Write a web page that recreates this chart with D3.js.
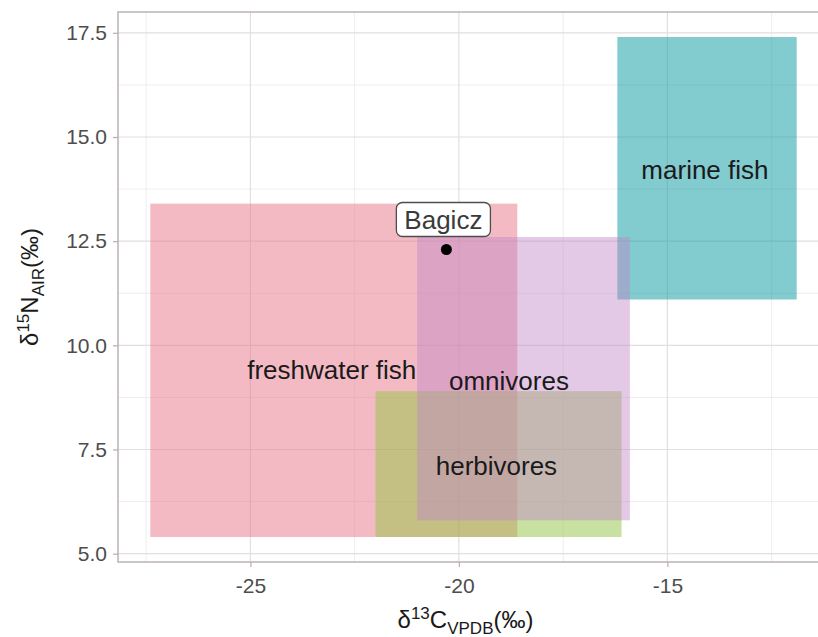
<!DOCTYPE html>
<html>
<head>
<meta charset="utf-8">
<script src="https://cdn.jsdelivr.net/npm/d3@7"></script>
<style>
  html, body { margin: 0; padding: 0; background: #ffffff; }
  svg { display: block; font-family: "Liberation Sans", Arial, Helvetica, sans-serif; }
</style>
</head>
<body>
<svg id="chart" width="818" height="637"></svg>
<script>
// Isotopic ranges of the reference food groups (δ13C, δ15N in ‰)
const groups   = ["freshwater fish", "herbivores", "marine fish", "omnivores"];
const cMin     = [-27.4, -22.0, -16.2, -21.0];
const cMax     = [-18.6, -16.1, -11.9, -15.9];
const nMin     = [5.4, 5.4, 11.1, 5.8];
const nMax     = [13.4, 8.9, 17.4, 12.6];
const fills    = ["#e9758a", "#94c442", "#05979f", "#c088c8"];
const alphas   = [0.5, 0.5, 0.5, 0.45];

// Group name annotations
const labelC   = [-23.05, -19.1, -14.1, -18.8];
const labelN   = [9.4, 7.1, 14.2, 9.15];

// Sample measurement
const sampleName = ["Bagicz"];
const sampleC    = [-20.3];
const sampleN    = [12.3];

// Axis ticks
const xTicks = [-25, -20, -15];
const yTicks = [5.0, 7.5, 10.0, 12.5, 15.0, 17.5];
const xMinor = [-27.5, -22.5, -17.5, -12.5];
const yMinor = [6.25, 8.75, 11.25, 13.75, 16.25];

const svg = d3.select("#chart");
const panel = { left: 118, top: 12, right: 829, bottom: 562 };

// ggplot-style 5% expansion of the data range
function expand(lo, hi) { const p = (hi - lo) * 0.05; return [lo - p, hi + p]; }
const xDom = expand(d3.min(cMin.concat(sampleC)), d3.max(cMax.concat(sampleC)));
const yDom = expand(d3.min(nMin.concat(sampleN)), d3.max(nMax.concat(sampleN)));

const x = d3.scaleLinear().domain(xDom).range([panel.left, panel.right]);
const y = d3.scaleLinear().domain(yDom).range([panel.bottom, panel.top]);

// Panel background and grid
svg.append("rect")
  .attr("x", panel.left).attr("y", panel.top)
  .attr("width", panel.right - panel.left).attr("height", panel.bottom - panel.top)
  .attr("fill", "#ffffff");

const grid = svg.append("g");
grid.selectAll(".xmin").data(xMinor).join("line")
  .attr("x1", d => x(d)).attr("x2", d => x(d))
  .attr("y1", panel.top).attr("y2", panel.bottom)
  .attr("stroke", "#f0ecec").attr("stroke-width", 1);
grid.selectAll(".ymin").data(yMinor).join("line")
  .attr("y1", d => y(d)).attr("y2", d => y(d))
  .attr("x1", panel.left).attr("x2", panel.right)
  .attr("stroke", "#f0ecec").attr("stroke-width", 1);
grid.selectAll(".xmaj").data(xTicks).join("line")
  .attr("x1", d => x(d)).attr("x2", d => x(d))
  .attr("y1", panel.top).attr("y2", panel.bottom)
  .attr("stroke", "#e4dede").attr("stroke-width", 1.2);
grid.selectAll(".ymaj").data(yTicks).join("line")
  .attr("y1", d => y(d)).attr("y2", d => y(d))
  .attr("x1", panel.left).attr("x2", panel.right)
  .attr("stroke", "#e4dede").attr("stroke-width", 1.2);

// Range rectangles
const rects = groups.map((g, i) => ({ g, x0: cMin[i], x1: cMax[i], y0: nMin[i], y1: nMax[i], fill: fills[i], a: alphas[i] }));
svg.append("g").selectAll("rect").data(rects).join("rect")
  .attr("x", d => x(d.x0))
  .attr("y", d => y(d.y1))
  .attr("width", d => x(d.x1) - x(d.x0))
  .attr("height", d => y(d.y0) - y(d.y1))
  .attr("fill", d => d.fill)
  .attr("fill-opacity", d => d.a);

// Group names
svg.append("g").selectAll("text").data(groups).join("text")
  .attr("x", (d, i) => x(labelC[i]))
  .attr("y", (d, i) => y(labelN[i]))
  .attr("text-anchor", "middle")
  .attr("dominant-baseline", "central")
  .attr("font-size", 26)
  .attr("fill", "#1a1a1a")
  .text(d => d);

// Sample point
svg.append("g").selectAll("circle").data(sampleName).join("circle")
  .attr("cx", (d, i) => x(sampleC[i]))
  .attr("cy", (d, i) => y(sampleN[i]))
  .attr("r", 5.5)
  .attr("fill", "#000000");

// Sample label (boxed, set above the point)
sampleName.forEach((name, i) => {
  const g = svg.append("g");
  const cx = x(sampleC[i]) - 3, cy = y(sampleN[i]) - 30;
  const t = g.append("text")
    .attr("x", cx).attr("y", cy)
    .attr("text-anchor", "middle")
    .attr("dominant-baseline", "central")
    .attr("font-size", 26)
    .attr("fill", "#3a3a3a")
    .text(name);
  const bb = t.node().getBBox();
  g.insert("rect", "text")
    .attr("x", bb.x - 8).attr("y", cy - 17)
    .attr("width", bb.width + 16).attr("height", 34)
    .attr("rx", 6)
    .attr("fill", "#ffffff")
    .attr("stroke", "#4d4d4d").attr("stroke-width", 1.3);
});

// Panel border
svg.append("rect")
  .attr("x", panel.left).attr("y", panel.top)
  .attr("width", panel.right - panel.left).attr("height", panel.bottom - panel.top)
  .attr("fill", "none").attr("stroke", "#b8aeae").attr("stroke-width", 1.4);

// Axes (plain hyphen for negative numbers)
const fmtX = d => String(d);
const xAxis = svg.append("g")
  .attr("transform", `translate(0,${panel.bottom})`)
  .call(d3.axisBottom(x).tickValues(xTicks).tickSize(5).tickPadding(6).tickFormat(fmtX));
const yAxis = svg.append("g")
  .attr("transform", `translate(${panel.left},0)`)
  .call(d3.axisLeft(y).tickValues(yTicks).tickSize(5).tickPadding(6).tickFormat(d => d.toFixed(1)));
[xAxis, yAxis].forEach(a => {
  a.select(".domain").remove();
  a.selectAll(".tick line").attr("stroke", "#b8aeae").attr("stroke-width", 1.2);
  a.selectAll(".tick text").attr("fill", "#4d4d4d").attr("font-size", 21)
    .attr("font-family", "Liberation Sans, Arial, sans-serif");
});
xAxis.selectAll(".tick text").attr("dy", "0.95em");

// Axis titles with super/subscripts
const xt = svg.append("text")
  .attr("x", (panel.left + panel.right) / 2 - 8).attr("y", 628)
  .attr("text-anchor", "middle").attr("font-size", 24).attr("fill", "#1a1a1a");
xt.append("tspan").text("δ");
xt.append("tspan").attr("dy", -9).attr("font-size", 17).text("13");
xt.append("tspan").attr("dy", 9).text("C");
xt.append("tspan").attr("dy", 6).attr("font-size", 17).text("VPDB");
xt.append("tspan").attr("dy", -6).text("(‰)");

const yt = svg.append("text")
  .attr("transform", `translate(38,${(panel.top + panel.bottom) / 2}) rotate(-90)`)
  .attr("text-anchor", "middle").attr("font-size", 24).attr("fill", "#1a1a1a");
yt.append("tspan").text("δ");
yt.append("tspan").attr("dy", -9).attr("font-size", 17).text("15");
yt.append("tspan").attr("dy", 9).text("N");
yt.append("tspan").attr("dy", 6).attr("font-size", 17).text("AIR");
yt.append("tspan").attr("dy", -6).text("(‰)");
</script>
</body>
</html>
